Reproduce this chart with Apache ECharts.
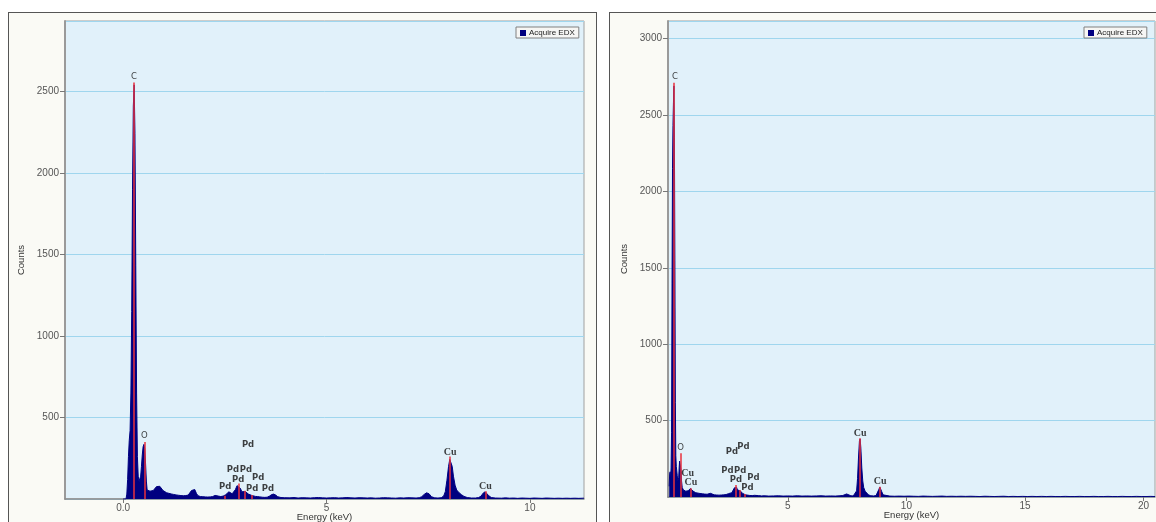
<!DOCTYPE html>
<html>
<head>
<meta charset="utf-8">
<script src="https://cdn.jsdelivr.net/npm/echarts@6/dist/echarts.min.js"></script>
<style>
  html, body { margin: 0; padding: 0; background: #ffffff; }
  .panel { position: absolute; top: 12px; height: 520px; background: #fafaf5; border: 1.5px solid #555; box-sizing: border-box; }
  #pa { left: 8px; width: 589px; }
  #pb { left: 609px; width: 560px; }
  #c { position: absolute; left: 0; top: 0; width: 1156px; height: 522px; }
</style>
</head>
<body>
<div class="panel" id="pa"></div>
<div class="panel" id="pb"></div>
<div id="c"></div>
<script>
// Series name shown in both legends
const seriesName = 'Acquire EDX';

// Axis tick values
const xTicksA = [0, 5, 10];
const xTicksB = [5, 10, 15, 20];

// Spectrum A: [energy keV, counts]
const spectrumA = [
  [0,0],[0.07,0],[0.09,30],[0.11,120],[0.13,260],[0.15,360],[0.17,420],[0.19,650],[0.21,1150],[0.23,1900],
  [0.25,2410],[0.27,2540],[0.29,2240],[0.31,1430],[0.33,650],[0.35,260],[0.37,140],[0.39,108],[0.41,112],[0.43,140],
  [0.45,200],[0.47,270],[0.49,320],[0.51,335],[0.53,310],[0.55,220],[0.57,110],[0.59,55],[0.62,45],[0.66,48],
  [0.70,55],[0.74,52],[0.78,62],[0.82,76],[0.86,82],[0.90,78],[0.94,66],[0.98,52],[1.02,44],[1.07,38],
  [1.12,35],[1.18,31],[1.24,28],[1.30,25],[1.36,23],[1.42,21],[1.48,20],[1.54,21],[1.60,24],[1.64,34],
  [1.68,52],[1.72,64],[1.76,58],[1.80,35],[1.84,20],[1.90,15],[1.96,14],[2.02,13],[2.08,12],[2.14,13],
  [2.20,15],[2.26,22],[2.30,26],[2.34,18],[2.40,15],[2.46,18],[2.52,26],[2.56,36],[2.60,44],[2.64,42],
  [2.68,32],[2.72,35],[2.76,58],[2.80,82],[2.84,86],[2.88,66],[2.92,44],[2.96,42],[3.00,46],[3.04,40],
  [3.08,30],[3.12,24],[3.16,22],[3.20,20],[3.25,16],[3.30,15],[3.36,13],[3.42,11],[3.48,10],[3.54,11],
  [3.60,18],[3.65,27],[3.70,30],[3.75,24],[3.80,14],[3.88,9],[3.96,8],[4.1,7],[4.2,9],[4.3,6],
  [4.4,8],[4.5,7],[4.6,6],[4.7,8],[4.8,9],[4.9,7],[5.0,6],[5.1,7],[5.2,8],[5.3,6],
  [5.4,7],[5.5,9],[5.6,7],[5.7,6],[5.8,8],[5.9,7],[6.0,6],[6.1,7],[6.2,5],[6.3,6],
  [6.4,8],[6.5,7],[6.6,6],[6.7,5],[6.8,7],[6.9,6],[7.0,8],[7.1,7],[7.2,6],[7.28,8],
  [7.34,14],[7.40,28],[7.46,38],[7.52,32],[7.58,14],[7.66,7],[7.74,6],[7.82,8],[7.88,18],[7.92,45],
  [7.96,115],[8.00,200],[8.03,243],[8.06,238],[8.09,200],[8.12,140],[8.16,85],[8.20,55],[8.26,38],[8.32,26],
  [8.38,16],[8.46,9],[8.56,6],[8.66,6],[8.74,9],[8.80,18],[8.85,36],[8.90,44],[8.94,38],[8.99,20],
  [9.05,9],[9.15,6],[9.3,5],[9.4,7],[9.5,5],[9.6,6],[9.7,4],[9.8,6],[9.9,5],[10.0,4],
  [10.1,6],[10.2,5],[10.3,4],[10.4,6],[10.5,5],[10.6,4],[10.7,5],[10.8,4],[10.9,5],[11.0,4],
  [11.1,5],[11.2,4],[11.33,5]
];

// Spectrum B: [energy keV, counts]
const spectrumB = [
  [0.00,70],[0.02,150],[0.04,165],[0.06,110],[0.08,190],[0.10,420],[0.12,1400],[0.14,2150],[0.16,2430],[0.18,2580],
  [0.20,2690],[0.22,2350],[0.24,1550],[0.26,620],[0.28,270],[0.30,200],[0.32,190],[0.34,140],[0.36,108],[0.38,100],
  [0.40,125],[0.42,190],[0.44,235],[0.46,245],[0.48,238],[0.50,175],[0.52,105],[0.55,62],[0.60,46],[0.65,41],
  [0.70,38],[0.75,37],[0.80,41],[0.85,49],[0.90,56],[0.95,50],[1.00,39],[1.06,31],[1.12,28],[1.20,26],
  [1.30,23],[1.40,21],[1.50,19],[1.60,18],[1.68,20],[1.74,24],[1.80,17],[1.90,14],[2.00,13],[2.10,12],
  [2.20,13],[2.30,14],[2.40,16],[2.50,22],[2.58,30],[2.64,28],[2.70,40],[2.75,60],[2.79,72],[2.84,64],
  [2.88,46],[2.94,38],[2.99,41],[3.04,32],[3.10,23],[3.16,18],[3.22,14],[3.30,12],[3.40,10],[3.50,9],
  [3.60,11],[3.68,13],[3.76,9],[3.9,7],[4.0,8],[4.2,6],[4.4,7],[4.6,8],[4.8,6],[5.0,7],
  [5.2,6],[5.4,8],[5.6,6],[5.8,7],[6.0,6],[6.2,7],[6.4,8],[6.6,6],[6.8,7],[7.0,6],
  [7.2,8],[7.32,10],[7.40,16],[7.48,20],[7.56,13],[7.66,8],[7.76,7],[7.84,10],[7.90,40],[7.94,120],
  [7.98,255],[8.02,365],[8.05,380],[8.08,320],[8.12,190],[8.16,105],[8.20,62],[8.26,38],[8.32,25],[8.40,14],
  [8.50,8],[8.62,7],[8.72,9],[8.78,20],[8.84,50],[8.88,65],[8.92,58],[8.96,35],[9.02,14],[9.10,7],
  [9.3,6],[9.5,5],[9.7,6],[9.9,5],[10.1,6],[10.3,5],[10.5,4],[10.7,6],[10.9,5],[11.1,4],
  [11.3,5],[11.5,6],[11.7,4],[11.9,5],[12.1,4],[12.3,5],[12.5,4],[12.7,5],[12.9,4],[13.1,3],
  [13.3,5],[13.5,4],[13.7,3],[13.9,4],[14.1,5],[14.3,3],[14.5,4],[14.7,3],[14.9,4],[15.1,3],
  [15.3,4],[15.5,3],[15.7,4],[15.9,3],[16.1,4],[16.3,3],[16.5,3],[16.7,4],[16.9,3],[17.1,3],
  [17.3,4],[17.5,3],[17.7,3],[17.9,4],[18.1,3],[18.3,3],[18.5,4],[18.7,3],[18.9,3],[19.1,4],
  [19.3,3],[19.5,3],[19.7,4],[19.9,3],[20.1,3],[20.3,4],[20.48,3]
];

// Element line markers: energy (keV) and marker height (counts)
const markA_E   = [0.265, 0.52, 2.50, 2.838, 2.99, 3.17, 8.04, 8.905];
const markA_top = [2555, 350, 20, 95, 50, 25, 260, 48];
const markB_E   = [0.21, 0.48, 0.92, 2.79, 2.99, 3.17, 8.04, 8.88];
const markB_top = [2711, 286, 57, 78, 45, 20, 384, 67];

// Element labels: text, energy (keV), height (counts)
const labelA_text = ['C','O','Pd','Pd','Pd','Pd','Pd','Pd','Pd','Pd','Cu','Cu'];
const labelA_E    = [0.265, 0.52, 3.07, 2.70, 3.02, 2.83, 3.32, 2.51, 3.17, 3.56, 8.04, 8.905];
const labelA_y    = [2590, 386, 331, 178, 178, 117, 129, 74, 61, 61, 284, 75];
const labelB_text = ['C','O','Cu','Cu','Pd','Pd','Pd','Pd','Pd','Pd','Pd','Cu','Cu'];
const labelB_E    = [0.24, 0.48, 0.78, 0.92, 2.64, 3.13, 2.45, 2.99, 2.81, 3.55, 3.30, 8.05, 8.89];
const labelB_y    = [2750, 319, 157, 94, 296, 329, 172, 172, 111, 126, 63, 417, 105];

const FONT = '"Liberation Sans", Arial, sans-serif';

function markLines(es, tops) {
  return es.map((e, i) => [{ coord: [e, 0] }, { coord: [e, tops[i]] }]);
}

function labelItems(texts, es, ys) {
  return texts.map((t, i) => ({
    name: t,
    value: [es[i], ys[i]],
    label: t === 'Cu'
      ? { fontFamily: '"Liberation Serif", "Times New Roman", serif', fontWeight: 'bold', fontSize: 10 }
      : t === 'Pd'
        ? { fontFamily: '"DejaVu Sans", sans-serif', fontWeight: 'bold', fontSize: 8.5 }
        : { fontFamily: '"DejaVu Sans", sans-serif', fontSize: 8.5 }
  }));
}

function xAxisCfg(grid, min, max, ticks, fmt) {
  return {
    type: 'value', gridIndex: grid, min: min, max: max,
    name: 'Energy (keV)', nameLocation: 'middle', nameGap: 13, nameMoveOverlap: false,
    nameTextStyle: { fontFamily: FONT, fontSize: 9.5, color: '#333', verticalAlign: 'top' },
    axisLine: { show: true, onZero: false, lineStyle: { color: '#8c8c8c', width: 1.5 } },
    axisTick: { show: true, customValues: ticks, length: 4, lineStyle: { color: '#777' } },
    axisLabel: { customValues: ticks, formatter: fmt, fontFamily: FONT, fontSize: 10, color: '#555', margin: 4 },
    splitLine: { show: false }
  };
}

function yAxisCfg(grid, max) {
  return {
    type: 'value', gridIndex: grid, min: 0, max: max, interval: 500,
    name: 'Counts', nameLocation: 'middle', nameGap: 39,
    nameTextStyle: { fontFamily: FONT, fontSize: 9.5, color: '#333' },
    axisLine: { show: true, onZero: false, lineStyle: { color: '#9a9a9a', width: 2 } },
    axisTick: { show: true, length: 5, lineStyle: { color: '#777' } },
    axisLabel: { showMinLabel: false, showMaxLabel: false, fontFamily: FONT, fontSize: 10, color: '#555', margin: 6,
      formatter: v => (v === 0 ? '' : String(v)) },
    splitLine: { show: true, lineStyle: { color: '#9fd6ee', width: 1 } }
  };
}

function spectrumSeries(idx, data, es, tops) {
  return {
    name: seriesName, type: 'line', xAxisIndex: idx, yAxisIndex: idx,
    data: data, symbol: 'none', animation: false,
    lineStyle: { color: '#000080', width: 1 },
    areaStyle: { color: '#000080', opacity: 1 },
    itemStyle: { color: '#000080' },
    markLine: {
      silent: true, symbol: ['none', 'none'], animation: false,
      label: { show: false },
      lineStyle: { color: '#e8303c', width: 1.5, type: 'solid' },
      data: markLines(es, tops)
    }
  };
}

function labelSeries(idx, items) {
  return {
    name: 'lines' + idx, type: 'scatter', xAxisIndex: idx, yAxisIndex: idx,
    symbolSize: 1, itemStyle: { color: 'rgba(0,0,0,0)' }, animation: false, silent: true,
    label: { show: true, position: 'inside', formatter: '{b}', color: '#111' },
    data: items, z: 5
  };
}

function legendCfg(left) {
  return {
    left: left, top: 27, data: [seriesName], icon: 'rect', itemWidth: 6, itemHeight: 6,
    padding: [2, 4, 1, 4], backgroundColor: '#f6f6f4', borderColor: '#808080', borderWidth: 1,
    textStyle: { fontFamily: FONT, fontSize: 8, color: '#222', padding: [0, 0, 0, -2] },
    selectedMode: false
  };
}

const chart = echarts.init(document.getElementById('c'), null, { renderer: 'canvas' });
chart.setOption({
  backgroundColor: 'transparent',
  animation: false,
  legend: [legendCfg(516), legendCfg(1084)],
  grid: [
    { left: 65, top: 21, width: 519, height: 478, show: true, backgroundColor: '#e1f1fa', borderColor: '#a0a0a0', borderWidth: 1, outerBoundsMode: 'none', containLabel: false },
    { left: 668, top: 21, width: 487, height: 476, show: true, backgroundColor: '#e1f1fa', borderColor: '#a0a0a0', borderWidth: 1, outerBoundsMode: 'none', containLabel: false }
  ],
  xAxis: [
    xAxisCfg(0, -1.43, 11.33, xTicksA, v => (v === 0 ? '0.0' : String(v))),
    xAxisCfg(1, -0.05, 20.48, xTicksB, v => String(v))
  ],
  yAxis: [ yAxisCfg(0, 2932), yAxisCfg(1, 3115) ],
  series: [
    spectrumSeries(0, spectrumA, markA_E, markA_top),
    spectrumSeries(1, spectrumB, markB_E, markB_top),
    labelSeries(0, labelItems(labelA_text, labelA_E, labelA_y)),
    labelSeries(1, labelItems(labelB_text, labelB_E, labelB_y))
  ]
});
</script>
</body>
</html>
